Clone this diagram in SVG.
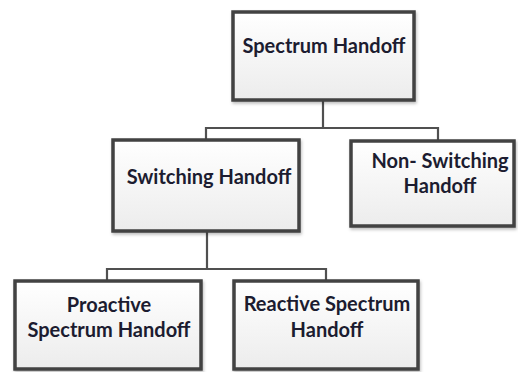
<svg xmlns="http://www.w3.org/2000/svg" width="518" height="372" viewBox="0 0 518 372">
  <defs>
    <linearGradient id="boxfill" x1="0" y1="0" x2="0" y2="1">
      <stop offset="0" stop-color="#ffffff"/>
      <stop offset="1" stop-color="#ececec"/>
    </linearGradient>
    <filter id="shadow" x="-10%" y="-10%" width="120%" height="130%">
      <feDropShadow dx="1" dy="2" stdDeviation="1.5" flood-color="#000" flood-opacity="0.25"/>
    </filter>
  </defs>
  <style>
    .box { fill: url(#boxfill); stroke: #424242; stroke-width: 3.5; filter: url(#shadow); }
    .lbl { font-family: Lato, "Liberation Sans", sans-serif; font-weight: bold; font-size: 20px; fill: #1c1c30; text-anchor: middle; }
    .conn { fill: none; stroke: #505050; stroke-width: 2.2; }
  </style>
  <rect width="518" height="372" fill="#ffffff"/>
  <g id="connectors">
    <path class="conn" d="M323,100 V128 M206,140 V128 H438 V141"/>
    <path class="conn" d="M207,231 V269 M107,281 V269 H326 V281"/>
  </g>
  <g id="spectrum-handoff">
    <rect class="box" x="233" y="12" width="181" height="88"/>
    <text class="lbl" x="324" y="53">Spectrum Handoff</text>
  </g>
  <g id="switching-handoff">
    <rect class="box" x="113" y="140" width="186" height="91"/>
    <text class="lbl" x="209" y="184">Switching Handoff</text>
  </g>
  <g id="non-switching-handoff">
    <rect class="box" x="351" y="141" width="163" height="85"/>
    <text class="lbl" x="440" y="168">Non- Switching</text>
    <text class="lbl" x="440" y="193">Handoff</text>
  </g>
  <g id="proactive-spectrum-handoff">
    <rect class="box" x="15" y="281" width="186" height="88"/>
    <text class="lbl" x="109" y="312">Proactive</text>
    <text class="lbl" x="109" y="337">Spectrum Handoff</text>
  </g>
  <g id="reactive-spectrum-handoff">
    <rect class="box" x="234" y="281" width="184" height="88"/>
    <text class="lbl" x="327" y="311">Reactive Spectrum</text>
    <text class="lbl" x="327" y="337">Handoff</text>
  </g>
</svg>
